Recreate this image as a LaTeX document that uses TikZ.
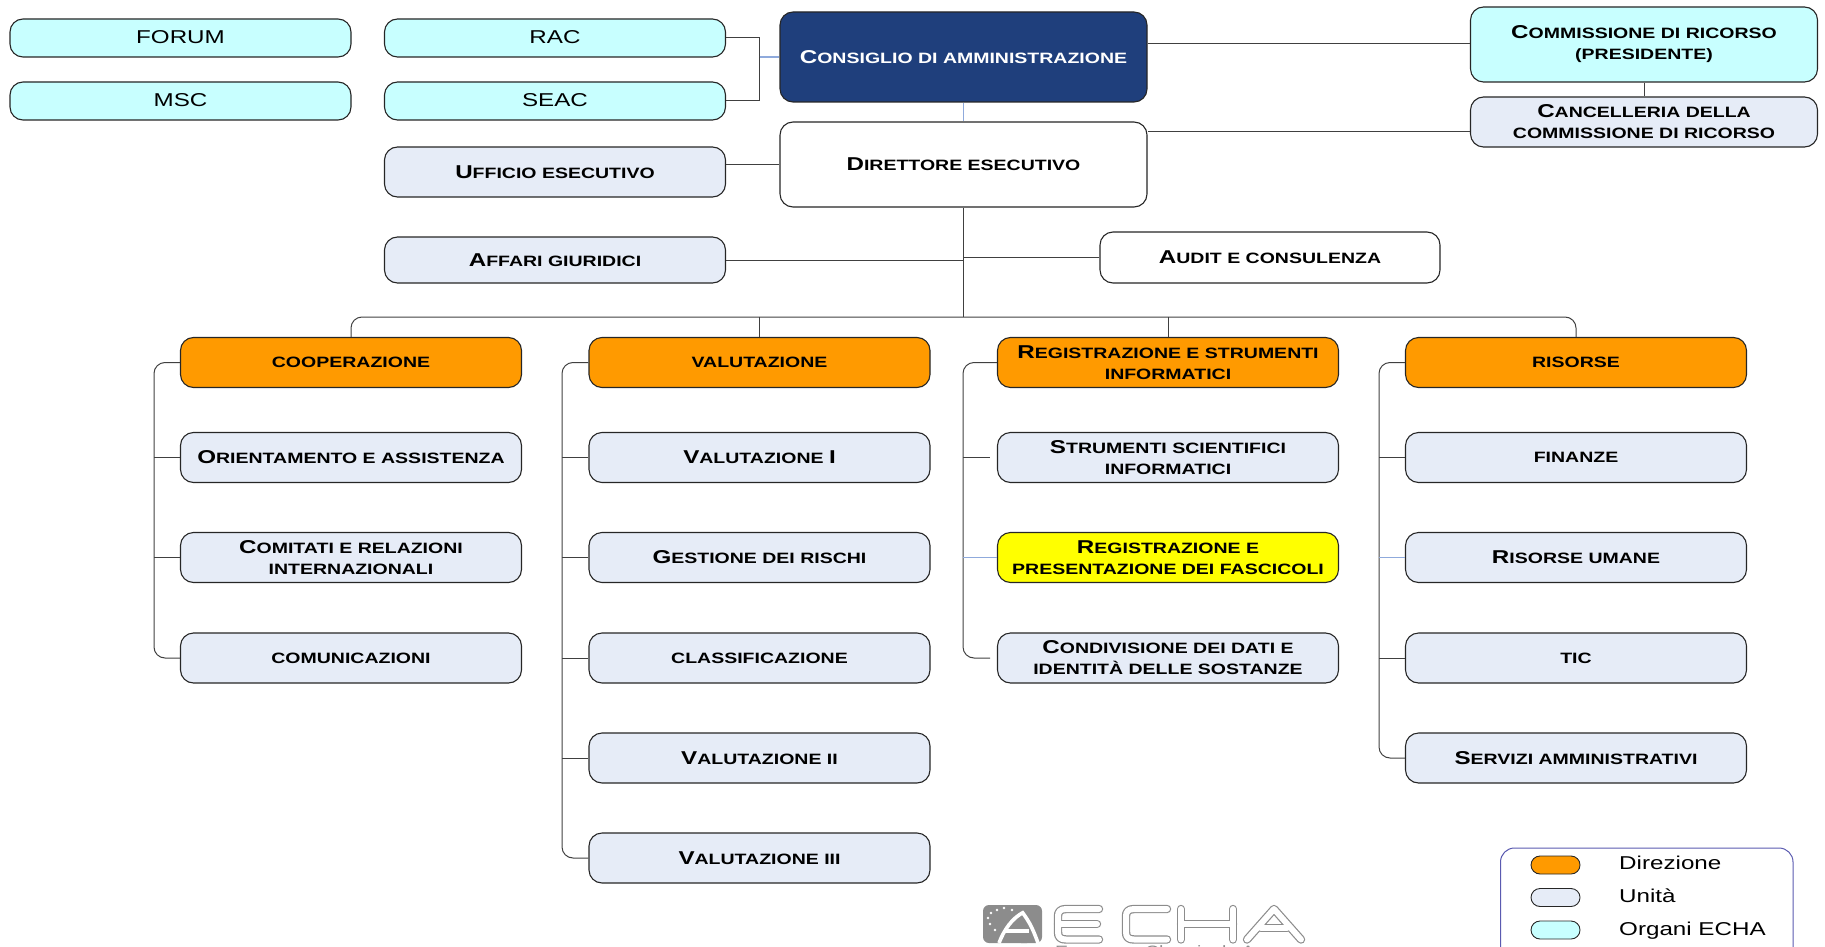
\documentclass[tikz,border=0pt]{standalone}
\usepackage{fontspec}
\setmainfont[FakeStretch=1.3]{Liberation Sans}
\newfontfamily\capsfont[FakeStretch=1.3]{Liberation Sans Bold}
\usetikzlibrary{calc}
\definecolor{navy}{HTML}{1F3F7C}
\definecolor{unitfill}{HTML}{E6ECF7}
\definecolor{organfill}{HTML}{C8FFFF}
\definecolor{dirfill}{HTML}{FF9A00}
\definecolor{yellowfill}{HTML}{FFFF00}
\definecolor{linkblue}{HTML}{8FAADC}
\definecolor{logogray}{HTML}{8C8C8C}
\definecolor{legendline}{HTML}{5A5AB0}
\newcommand{\Bg}[1]{{\fontsize{18.6pt}{21pt}\selectfont #1}}
\newcommand{\Sm}{\capsfont\fontsize{15pt}{21pt}\selectfont}
\tikzset{
  x=1pt,y=-1pt,
  boxbase/.style={draw=black!85,line width=1.1pt,rounded corners=13pt,align=center,inner sep=0pt,text=black,font=\Sm},
  organ/.style={boxbase,fill=organfill},
  unit/.style={boxbase,fill=unitfill},
  plain/.style={boxbase,fill=white},
  direz/.style={boxbase,fill=dirfill},
  highlight/.style={boxbase,fill=yellowfill},
  board/.style={boxbase,fill=navy,text=white},
  colbox/.style={minimum width=341pt,minimum height=50pt},
  conn/.style={draw=black!75,line width=1pt},
  bluelink/.style={draw=linkblue,line width=1.4pt},
  swatch/.style={draw=black!85,line width=.9pt,rounded corners=9pt,minimum width=49pt,minimum height=18pt,inner sep=0pt},
  legtext/.style={anchor=west,inner sep=0pt,font=\fontsize{18.6pt}{21pt}\selectfont},
  plaintext/.style={font=\fontsize{18.6pt}{21pt}\selectfont}
}
\begin{document}
\begin{tikzpicture}
\useasboundingbox (0,0) rectangle (1825,947);
\clip (0,0) rectangle (1825,947);
% top left
\node[organ,plaintext,minimum width=341pt,minimum height=38pt] (forum) at (180.5,38) {\raisebox{1pt}{FORUM}};
\node[organ,plaintext,minimum width=341pt,minimum height=38pt] (msc) at (180.5,101) {\raisebox{1pt}{MSC}};
\node[organ,plaintext,minimum width=341pt,minimum height=38pt] (rac) at (555,38) {\raisebox{1pt}{RAC}};
\node[organ,plaintext,minimum width=341pt,minimum height=38pt] (seac) at (555,101) {\raisebox{1pt}{SEAC}};
\node[unit,minimum width=341pt,minimum height=50pt] (uff) at (555,172) {\Bg{U}FFICIO ESECUTIVO};
\node[unit,minimum width=341pt,minimum height=46pt] (aff) at (555,260) {\Bg{A}FFARI GIURIDICI};
% centre
\node[board,minimum width=367pt,minimum height=90pt] (cda) at (963.5,57) {\Bg{C}ONSIGLIO DI AMMINISTRAZIONE};
\node[plain,minimum width=367pt,minimum height=85pt] (dir) at (963.5,164.5) {\Bg{D}IRETTORE ESECUTIVO};
\node[plain,minimum width=340pt,minimum height=51pt] (audit) at (1270,257.5) {\Bg{A}UDIT E CONSULENZA};
% top right
\node[organ,minimum width=347pt,minimum height=75pt] (comm) at (1644,44.5) {\Bg{C}OMMISSIONE DI RICORSO\\(PRESIDENTE)};
\node[unit,minimum width=347pt,minimum height=50pt] (canc) at (1644,122) {\Bg{C}ANCELLERIA DELLA\\COMMISSIONE DI RICORSO};
% column 1
\node[direz,colbox] (c1) at (351,362.5) {COOPERAZIONE};
\node[unit,colbox] (c1a) at (351,457.5) {\Bg{O}RIENTAMENTO E ASSISTENZA};
\node[unit,colbox] (c1b) at (351,557.5) {\Bg{C}OMITATI E RELAZIONI\\INTERNAZIONALI};
\node[unit,colbox] (c1c) at (351,658) {COMUNICAZIONI};
% column 2
\node[direz,colbox] (c2) at (759.5,362.5) {VALUTAZIONE};
\node[unit,colbox] (c2a) at (759.5,457.5) {\Bg{V}ALUTAZIONE \Bg{I}};
\node[unit,colbox] (c2b) at (759.5,557.5) {\Bg{G}ESTIONE DEI RISCHI};
\node[unit,colbox] (c2c) at (759.5,658) {CLASSIFICAZIONE};
\node[unit,colbox] (c2d) at (759.5,758) {\Bg{V}ALUTAZIONE II};
\node[unit,colbox] (c2e) at (759.5,858) {\Bg{V}ALUTAZIONE III};
% column 3
\node[direz,colbox] (c3) at (1168,362.5) {\Bg{R}EGISTRAZIONE E STRUMENTI\\INFORMATICI};
\node[unit,colbox] (c3a) at (1168,457.5) {\Bg{S}TRUMENTI SCIENTIFICI\\INFORMATICI};
\node[highlight,colbox] (c3b) at (1168,557.5) {\Bg{R}EGISTRAZIONE E\\PRESENTAZIONE DEI FASCICOLI};
\node[unit,colbox] (c3c) at (1168,658) {\Bg{C}ONDIVISIONE DEI DATI E\\IDENTITÀ DELLE SOSTANZE};
% column 4
\node[direz,colbox] (c4) at (1576,362.5) {RISORSE};
\node[unit,colbox] (c4a) at (1576,457.5) {FINANZE};
\node[unit,colbox] (c4b) at (1576,557.5) {\Bg{R}ISORSE UMANE};
\node[unit,colbox] (c4c) at (1576,658) {TIC};
\node[unit,colbox] (c4d) at (1576,758) {\Bg{S}ERVIZI AMMINISTRATIVI};
% helper coordinates
\coordinate (bus) at (963.5,317);
\coordinate (racrail) at (759.5,57);
\coordinate (r1) at (154,0);
\coordinate (r2) at (562,0);
\coordinate (r3) at (963,0);
\coordinate (r3end) at (990,0);
\coordinate (r4) at (1379,0);
% connectors top
\draw[conn] (rac.east) -| (racrail) |- (seac.east);
\draw[bluelink] (racrail) -- (racrail -| cda.west);
\draw[bluelink] (cda.south) -- (dir.north);
\draw[conn] (cda.east |- 0,44) -- (comm.west |- 0,44);
\draw[conn] (comm.south) -- (canc.north);
\draw[conn] (dir.east |- 0,132) -- (canc.west |- 0,132);
\draw[conn] (uff.east |- 0,164) -- (dir.west |- 0,164);
\draw[conn] (aff.east) -- (aff.east -| dir.south);
\draw[conn] (audit.west) -- (audit.west -| dir.south);
\draw[conn] (dir.south) -- (bus);
\draw[conn,rounded corners=11pt] (c1.north) |- (bus) -| (c4.north);
\draw[conn] (c2.north) -- (c2.north |- bus);
\draw[conn] (c3.north) -- (c3.north |- bus);
% rails
\draw[conn,rounded corners=11pt] (c1.west) -| (r1 |- c1c.west) -- (c1c.west);
\draw[conn] (c1a.west) -- (r1 |- c1a.west);
\draw[conn] (c1b.west) -- (r1 |- c1b.west);
\draw[conn,rounded corners=11pt] (c2.west) -| (r2 |- c2e.west) -- (c2e.west);
\draw[conn] (c2a.west) -- (r2 |- c2a.west);
\draw[conn] (c2b.west) -- (r2 |- c2b.west);
\draw[conn] (c2c.west) -- (r2 |- c2c.west);
\draw[conn] (c2d.west) -- (r2 |- c2d.west);
\draw[conn,rounded corners=11pt] (c3.west) -| (r3 |- c3c.west) -- (r3end |- c3c.west);
\draw[conn] (r3 |- c3a.west) -- (r3end |- c3a.west);
\draw[bluelink] (c3b.west) -- (r3 |- c3b.west);
\draw[conn,rounded corners=11pt] (c4.west) -| (r4 |- c4d.west) -- (c4d.west);
\draw[conn] (c4a.west) -- (r4 |- c4a.west);
\draw[bluelink] (c4b.west) -- (r4 |- c4b.west);
\draw[conn] (c4c.west) -- (r4 |- c4c.west);
% legend
\draw[draw=legendline,line width=1pt,rounded corners=14pt] (1500.5,960) -- (1500.5,848) -- (1793,848) -- (1793,960);
\node[swatch,fill=dirfill] (s1) at (1555.5,865) {};
\node[swatch,fill=unitfill] (s2) at (1555.5,897.5) {};
\node[swatch,fill=organfill] (s3) at (1555.5,930) {};
\node[legtext] (l1) at (1619,863) {Direzione};
\node[legtext] (l2) at (1619,895.5) {Unità};
\node[legtext] (l3) at (1619,931) {Organi ECHA};
% logo mark
\fill[logogray,rounded corners=6pt] (983,905) rectangle (1042,943);
\draw[white,line width=3.6pt] (999,943) .. controls (1004,930) and (1012,918) .. (1024,912);
\draw[white,line width=3.6pt] (1022,912) .. controls (1030,922) and (1034,932) .. (1038,943);
\draw[white,line width=3.4pt] (1006,931) -- (1029,931);
\fill[logogray] (1022,938) -- (1026,938) -- (1027,943) -- (1021,943) -- cycle;
\foreach \sx/\sy in {995/930, 990/924, 988/918, 991/913, 997/910, 1004/908, 1012/910}{
  \fill[white] (\sx,\sy) circle (1.3pt);
}
% logo letters: outline made by a grey pass below a white pass
\foreach \lw/\col in {8.4pt/logogray,6pt/white}{
  \draw[line width=\lw,color=\col,line join=round,line cap=round] (1099,909) -- (1066,909) .. controls (1060,909) and (1058,912) .. (1058,916) -- (1058,932) .. controls (1058,937) and (1060,939.5) .. (1066,939.5) -- (1099,939.5);
  \draw[line width=\lw,color=\col,line cap=round] (1058,924) -- (1097,924);
  \draw[line width=\lw,color=\col,line join=round,line cap=round] (1167,909) -- (1134,909) .. controls (1128,909) and (1126,912) .. (1126,916) -- (1126,932) .. controls (1126,937) and (1128,939.5) .. (1134,939.5) -- (1167,939.5);
  \draw[line width=\lw,color=\col,line cap=round] (1181,909) -- (1181,939.5);
  \draw[line width=\lw,color=\col,line cap=round] (1233,909) -- (1233,939.5);
  \draw[line width=\lw,color=\col,line cap=round] (1181,924) -- (1233,924);
  \draw[line width=\lw,color=\col,line join=round,line cap=round] (1247,939.5) -- (1274,909) -- (1301,939.5);
  \draw[line width=\lw,color=\col,line cap=round] (1261,928) -- (1287,928);
}
\node[anchor=base west,inner sep=0pt,text=logogray,font=\fontsize{15pt}{18pt}\selectfont] (logotext) at (1055,956) {European Chemicals Agency};
\end{tikzpicture}
\end{document}
